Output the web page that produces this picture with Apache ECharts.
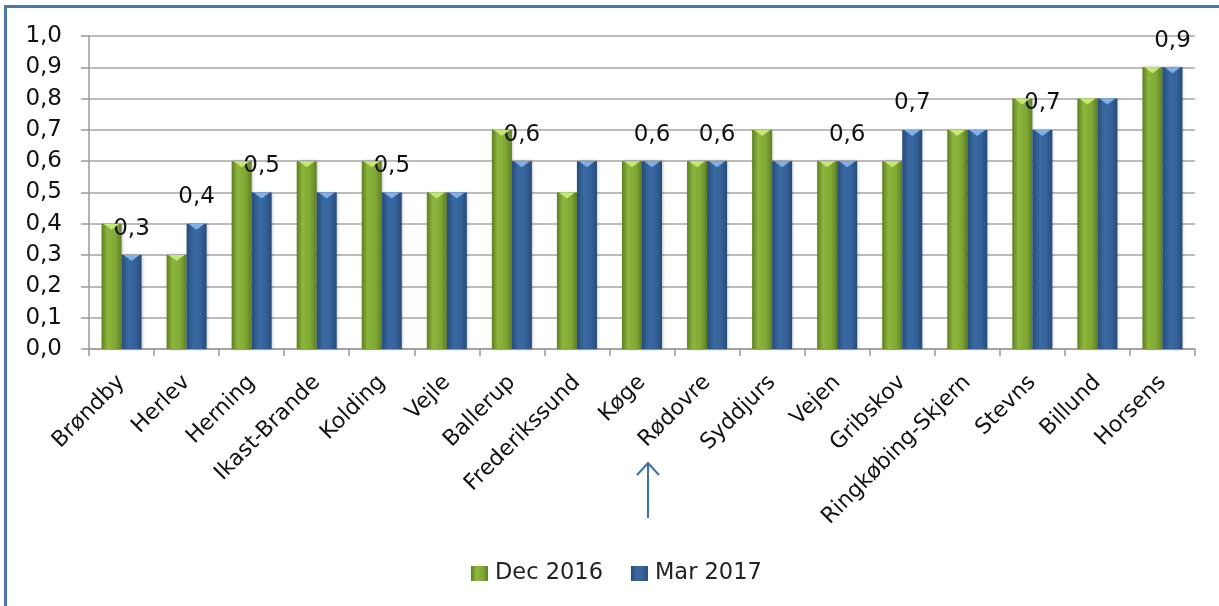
<!DOCTYPE html>
<html>
<head>
<meta charset="utf-8">
<script src="https://cdn.jsdelivr.net/npm/echarts@6/dist/echarts.min.js"></script>
<style>
  html, body { margin: 0; padding: 0; background: #fff; }
  #chart { width: 1219px; height: 606px; }
</style>
</head>
<body>
<div id="chart"></div>
<script>
// data
const categories = ['Brøndby', 'Herlev', 'Herning', 'Ikast-Brande', 'Kolding', 'Vejle', 'Ballerup',
  'Frederikssund', 'Køge', 'Rødovre', 'Syddjurs', 'Vejen', 'Gribskov', 'Ringkøbing-Skjern',
  'Stevns', 'Billund', 'Horsens']
const dec2016 = [0.4, 0.3, 0.6, 0.6, 0.6, 0.5, 0.7, 0.5, 0.6, 0.6, 0.7, 0.6, 0.6, 0.7, 0.8, 0.8, 0.9]
const mar2017 = [0.3, 0.4, 0.5, 0.5, 0.5, 0.5, 0.6, 0.6, 0.6, 0.6, 0.6, 0.6, 0.7, 0.7, 0.7, 0.8, 0.9]
// only these categories carry a value label on the Mar 2017 bars
const labelled = ['Brøndby', 'Herlev', 'Herning', 'Kolding', 'Ballerup', 'Køge', 'Rødovre',
  'Vejen', 'Gribskov', 'Stevns', 'Horsens']

const font = 'DejaVu Sans'
const fmt = v => v.toFixed(1).replace('.', ',')

const greenFill = new echarts.graphic.LinearGradient(0, 0, 1, 0, [
  { offset: 0, color: '#5e7d22' },
  { offset: 0.3, color: '#8cb63c' },
  { offset: 0.7, color: '#7fa834' },
  { offset: 1, color: '#5f7f24' },
])
const blueFill = new echarts.graphic.LinearGradient(0, 0, 1, 0, [
  { offset: 0, color: '#264d7a' },
  { offset: 0.35, color: '#3a69a0' },
  { offset: 0.7, color: '#35629a' },
  { offset: 1, color: '#264b78' },
])

// small light chevron on each bar top (both centred on the category, shifted left / right)
const chevron = (data, color, dx) => ({
  type: 'pictorialBar',
  data: data,
  barWidth: 20,
  barGap: '-100%',
  symbol: 'path://M0,0 L10,0 L5,4 Z',
  symbolSize: [16, 6],
  symbolPosition: 'end',
  symbolOffset: [dx, 0],
  itemStyle: { color: color },
  z: 5,
  silent: true,
})

const chart = echarts.init(document.getElementById('chart'))

const option = {
  animation: false,
  backgroundColor: '#fff',
  grid: { left: 89, right: 24, top: 36, bottom: 257 },
  legend: {
    data: ['Dec 2016', 'Mar 2017'],
    icon: 'rect',
    left: 471,
    top: 562,
    padding: 0,
    itemWidth: 17,
    itemHeight: 15,
    itemGap: 28,
    textStyle: { fontFamily: font, fontSize: 22.5, color: '#222', padding: [0, 0, 0, 2] },
  },
  xAxis: {
    type: 'category',
    data: categories,
    axisLine: { lineStyle: { color: '#9a9a9a', width: 1.5 } },
    axisTick: { show: true, length: 7, lineStyle: { color: '#9a9a9a', width: 1.5 } },
    axisLabel: {
      rotate: 45,
      interval: 0,
      margin: 30,
      fontFamily: font,
      fontSize: 22,
      color: '#111',
    },
  },
  yAxis: {
    type: 'value',
    min: 0,
    max: 1,
    interval: 0.1,
    axisLine: { show: true, lineStyle: { color: '#9a9a9a', width: 1.5 } },
    axisTick: { show: true, length: 8, lineStyle: { color: '#9a9a9a', width: 1.5 } },
    splitLine: { lineStyle: { color: '#a6a6a6', width: 1.5 } },
    axisLabel: {
      margin: 27,
      fontFamily: font,
      fontSize: 23,
      color: '#111',
      formatter: fmt,
    },
  },
  series: [
    {
      name: 'Dec 2016',
      type: 'bar',
      data: dec2016,
      barWidth: 20,
      barGap: '0%',
      barCategoryGap: '38%',
      itemStyle: { color: greenFill, shadowColor: 'rgba(0,0,0,0.25)', shadowBlur: 3, shadowOffsetX: 1 },
    },
    {
      name: 'Mar 2017',
      type: 'bar',
      data: mar2017.map((v, i) => ({
        value: v,
        label: { show: labelled.includes(categories[i]) },
      })),
      barWidth: 20,
      itemStyle: { color: blueFill, shadowColor: 'rgba(0,0,0,0.25)', shadowBlur: 3, shadowOffsetX: 1 },
      label: {
        position: 'top',
        distance: 15,
        fontFamily: font,
        fontSize: 23,
        color: '#111',
        formatter: p => fmt(p.value),
      },
    },
    chevron(dec2016, '#c6e67a', -10),
    chevron(mar2017, '#7fb0e8', 10),
  ],
  graphic: [
    // frame lines along the top and left edge
    { type: 'rect', shape: { x: 4, y: 5, width: 1215, height: 3 }, style: { fill: '#4a76aa' } },
    { type: 'rect', shape: { x: 4, y: 5, width: 3, height: 601 }, style: { fill: '#4a76aa' } },
    // arrow under Køge / Rødovre
    { type: 'line', shape: { x1: 648, y1: 463, x2: 648, y2: 518 }, style: { stroke: '#3d6ea8', lineWidth: 2 } },
    { type: 'polyline', shape: { points: [[637, 475], [648, 463], [659, 475]] }, style: { stroke: '#3d6ea8', lineWidth: 2, fill: null } },
  ],
}

chart.setOption(option)
</script>
</body>
</html>
